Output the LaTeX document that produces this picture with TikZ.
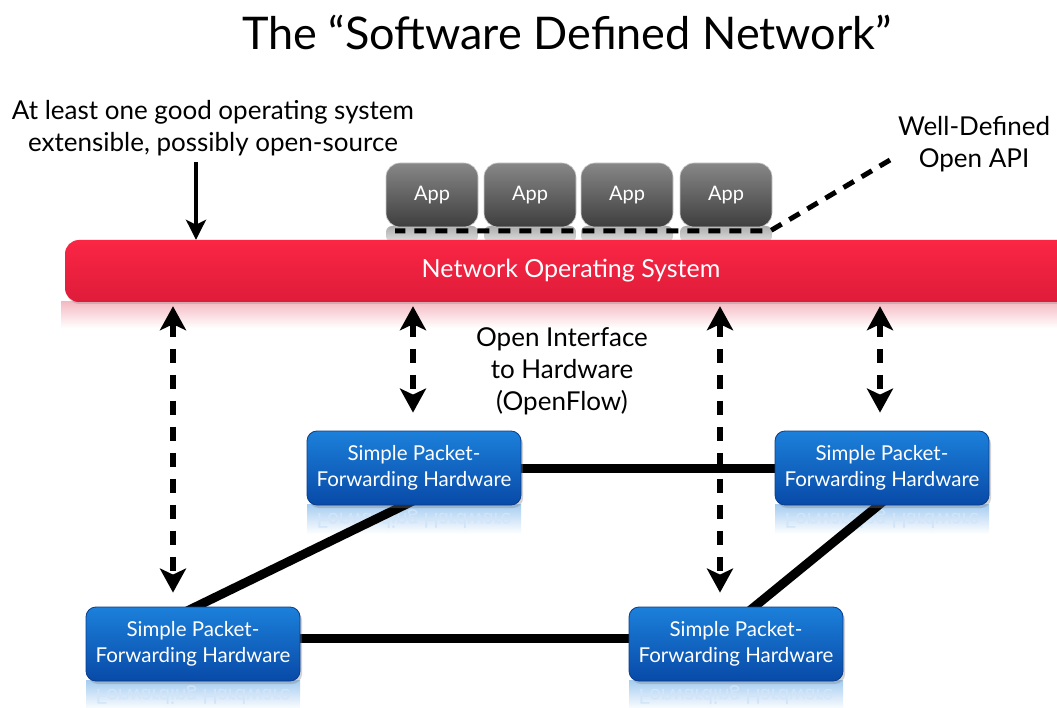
\documentclass[tikz,border=0pt]{standalone}
\usepackage{fontspec}
\setmainfont{Lato}
\usetikzlibrary{arrows.meta,shadows,calc}

\definecolor{nostop}{RGB}{250,38,68}
\definecolor{nosbot}{RGB}{222,28,58}
\definecolor{hwtop}{RGB}{28,128,218}
\definecolor{hwbot}{RGB}{8,74,168}
\definecolor{hwedge}{RGB}{10,60,140}
\definecolor{apptop}{RGB}{135,135,135}
\definecolor{appbot}{RGB}{62,62,62}

\tikzset{
  hw/.style={rounded corners=10pt, minimum width=214pt, minimum height=74pt,
    top color=hwtop, bottom color=hwbot, draw=hwedge, line width=0.8pt,
    text=white, align=center, font=\fontsize{20.5}{26}\selectfont, inner sep=2pt,
    drop shadow={opacity=0.35, shadow xshift=2pt, shadow yshift=-3pt}},
  hwrefl/.style={minimum width=214pt, minimum height=30pt, inner sep=0pt,
    top color=hwtop!40, bottom color=white, text=white!80!hwtop,
    font=\fontsize{20.5}{26}\selectfont},
  app/.style={rounded corners=14pt, minimum width=92pt, minimum height=64pt,
    top color=apptop, bottom color=appbot, draw=white!60!gray, line width=0.6pt,
    text=white, font=\fontsize{20}{22}\selectfont},
  apprefl/.style={rounded corners=6pt, minimum width=92pt, minimum height=16pt,
    top color=gray!65, bottom color=gray!25, inner sep=0pt},
  nos/.style={rounded corners=14pt, minimum width=1012pt, minimum height=62pt,
    top color=nostop, bottom color=nosbot, text=white,
    font=\fontsize{25}{28}\selectfont,
    drop shadow={opacity=0.3, shadow xshift=1pt, shadow yshift=-2pt}},
  nosrefl/.style={minimum width=1000pt, minimum height=26pt, inner sep=0pt,
    top color=nosbot!30, bottom color=white},
  label/.style={align=center, text=black, font=\fontsize{26}{32}\selectfont},
  link/.style={line width=9pt, black},
  bidash/.style={line width=6pt, dash pattern=on 14pt off 12pt,
    {Stealth[length=24pt,width=26pt,inset=6pt]}-{Stealth[length=24pt,width=26pt,inset=6pt]}},
  apiline/.style={line width=5pt, dash pattern=on 12pt off 9pt},
  solidarrow/.style={line width=3.5pt, -{Stealth[length=20pt,width=20pt,inset=5pt]}}
}

\begin{document}
\begin{tikzpicture}[x=1pt,y=-1pt]
\useasboundingbox[fill=white] (0,0) rectangle (1057,708);

% title
\node[font=\fontsize{45}{50}\selectfont] (title) at (567,32) {The “Software Defined Network”};

% reflections beneath the operating system bar and the apps
\node[nosrefl] (nosr) at (561,315) {};
\foreach \x/\n in {432/1,530/2,627/3,726/4}
  \node[apprefl] (ar\n) at (\x,234) {};

% network operating system bar
\node[nos] (nos) at (571,271) {Network Operating System};

% applications
\node[app] (a1) at (432,195) {App};
\node[app] (a2) at (530,195) {App};
\node[app] (a3) at (627,195) {App};
\node[app] (a4) at (726,195) {App};

% hardware reflections
\foreach \x/\y/\n in {414/519/1, 882/519/2, 193/695/3, 736/695/4}
  \node[hwrefl] (hr\n) at (\x,\y) {\scalebox{1}[-1]{Forwarding Hardware}};

% links between forwarding elements (drawn under the boxes)
\coordinate (l1a) at (415,500);
\coordinate (l1b) at (185,612);
\coordinate (l2a) at (885,500);
\coordinate (l2b) at (748,612);
\draw[link] (l1a) -- (l1b);
\draw[link] (l2a) -- (l2b);
\draw[link] (414,468) -- (882,468);
\draw[link] (193,638) -- (736,638);

% forwarding hardware
\node[hw] (h1) at (414,468) {Simple Packet-\\Forwarding Hardware};
\node[hw] (h2) at (882,468) {Simple Packet-\\Forwarding Hardware};
\node[hw] (h3) at (193,644) {Simple Packet-\\Forwarding Hardware};
\node[hw] (h4) at (736,644) {Simple Packet-\\Forwarding Hardware};

% labels
\node[label] (oslabel) at (213,128) {At least one good operating system\\extensible, possibly open-source};
\node[label] (apilabel) at (974,144) {Well-Defined\\Open API};
\node[label] (oflabel) at (562,371) {Open Interface\\to Hardware\\(OpenFlow)};

% arrow onto the operating system
\coordinate (osarr) at (196,162);
\draw[solidarrow] (osarr) -- (osarr |- nos.north);

% open API dashed pointer along the apps
\coordinate (apiend) at (890,160);
\coordinate (apibend) at (770,231);
\coordinate (apistart) at (395,231);
\draw[apiline] (apiend) -- (apibend) -- (apistart);

% OpenFlow interfaces
\coordinate (c1) at (173,0);
\coordinate (c2) at (413,0);
\coordinate (c3) at (720,0);
\coordinate (c4) at (880,0);
\draw[bidash] ([yshift=-4pt]nos.south -| c1) -- ([yshift=14pt]h3.north -| c1);
\draw[bidash] ([yshift=-4pt]nos.south -| c2) -- ([yshift=18pt]h1.north -| c2);
\draw[bidash] ([yshift=-4pt]nos.south -| c3) -- ([yshift=14pt]h4.north -| c3);
\draw[bidash] ([yshift=-4pt]nos.south -| c4) -- ([yshift=18pt]h2.north -| c4);
\end{tikzpicture}
\end{document}
